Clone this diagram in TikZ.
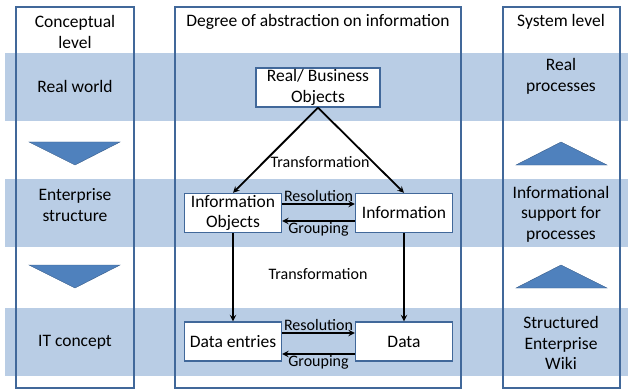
\documentclass[tikz,border=0pt]{standalone}
\usepackage{fontspec}
\setmainfont{Carlito}

\definecolor{bandblue}{HTML}{B9CDE5}
\definecolor{frameblue}{HTML}{41689A}
\definecolor{trifill}{HTML}{4F81BD}
\definecolor{triline}{HTML}{385D8A}

\begin{document}
\begin{tikzpicture}[x=1pt, y=-1pt, >=stealth,
    box/.style={draw=frameblue, fill=white, line width=1.4pt, minimum width=97pt, minimum height=39pt, inner sep=1pt, align=center, font=\fontsize{17.5}{20.5}\selectfont},
    lvltext/.style={align=center, font=\fontsize{17.5}{20.5}\selectfont},
    small/.style={font=\fontsize{16}{17}\selectfont, inner sep=1pt},
    flow/.style={->, line width=1.8pt}]
            \useasboundingbox (0,0) rectangle (628,390);

            % bands
            \fill [bandblue] (5,53) rectangle (628,121);
            \fill [bandblue] (5,179) rectangle (628,247);
            \fill [bandblue] (5,308) rectangle (628,376);

            % columns
            \draw [frameblue, line width=1.4pt] (16,7) rectangle (134,388);
            \draw [frameblue, line width=1.4pt] (175,7) rectangle (461,388);
            \draw [frameblue, line width=1.4pt] (503,7) rectangle (620,388);

            % headings
            \node [lvltext] (concept) at (75,32) {Conceptual\\level};
            \node [lvltext] (degree) at (318,22) {Degree of abstraction on information};
            \node [lvltext] (system) at (561,22) {System level};

            % left column
            \node [lvltext] (realworld) at (75,86) {Real world};
            \node [lvltext] (enterprise) at (75,205) {Enterprise\\structure};
            \node [lvltext] (itconcept) at (75,342) {IT concept};
            \filldraw [fill=trifill, draw=triline] (29,142) -- (120,142) -- (75,165) -- cycle;
            \filldraw [fill=trifill, draw=triline] (29,265) -- (120,265) -- (75,288) -- cycle;

            % right column
            \node [lvltext] (realproc) at (561,76.5) {Real\\processes};
            \node [lvltext] (support) at (561,214) {Informational\\support for\\processes};
            \node [lvltext] (wiki) at (561,343) {Structured\\Enterprise\\Wiki};
            \filldraw [fill=trifill, draw=triline] (516,165) -- (607,165) -- (561,142) -- cycle;
            \filldraw [fill=trifill, draw=triline] (516,288) -- (607,288) -- (561,265) -- cycle;

            % middle column boxes
            \node [box, minimum width=124pt] (business) at (318,87.5) {Real/ Business\\Objects};
            \node [box] (infoobj) at (233,213) {Information\\Objects};
            \node [box] (info) at (404,213) {Information};
            \node [box] (entries) at (233,341.5) {Data entries};
            \node [box] (data) at (404,341.5) {Data};

            % transformation arrows
            \draw [flow] (business.south) -- (infoobj.north);
            \draw [flow] (business.south) -- (info.north);
            \node [small] (trans1) at (320,162) {Transformation};
            \draw [flow] (infoobj.south) -- (entries.north);
            \draw [flow] (info.south) -- (data.north);
            \node [small] (trans2) at (318,274) {Transformation};

            % resolution and grouping
            \draw [flow] ([yshift=9pt]infoobj.east) -- ([yshift=9pt]info.west) node [small, midway, above] {Resolution};
            \draw [flow] ([yshift=-8pt]info.west) -- ([yshift=-8pt]infoobj.east) node [small, midway, below] {Grouping};
            \draw [flow] ([yshift=8.5pt]entries.east) -- ([yshift=8.5pt]data.west) node [small, midway, above] {Resolution};
            \draw [flow] ([yshift=-12.5pt]data.west) -- ([yshift=-12.5pt]entries.east) node [small, midway, below] {Grouping};
\end{tikzpicture}
\end{document}
